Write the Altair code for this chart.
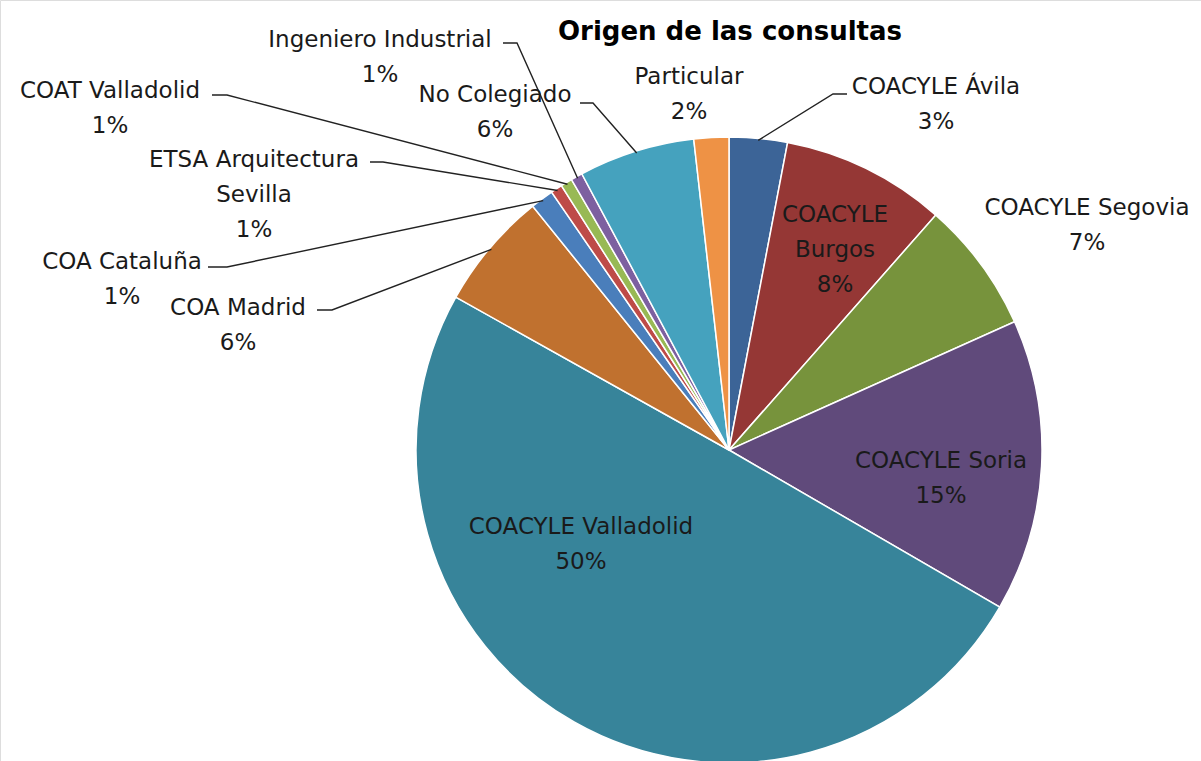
import math
import altair as alt
import pandas as pd

# ---- data ----
categories = ["COACYLE Ávila", "COACYLE Burgos", "COACYLE Segovia", "COACYLE Soria",
              "COACYLE Valladolid", "COA Madrid", "COA Cataluña",
              "ETSA Arquitectura Sevilla", "COAT Valladolid", "Ingeniero Industrial",
              "No Colegiado", "Particular"]
values = [3.0, 8.5, 6.8, 15.1, 49.8, 6.1, 1.2, 0.6, 0.6, 0.6, 6.0, 1.8]
pct_labels = ["3%", "8%", "7%", "15%", "50%", "6%", "1%", "1%", "1%", "1%", "6%", "2%"]
name_lines = [["COACYLE Ávila"], ["COACYLE", "Burgos"], ["COACYLE Segovia"], ["COACYLE Soria"],
              ["COACYLE Valladolid"], ["COA Madrid"], ["COA Cataluña"],
              ["ETSA Arquitectura", "Sevilla"], ["COAT Valladolid"], ["Ingeniero Industrial"],
              ["No Colegiado"], ["Particular"]]
colors = ["#3C6497", "#953735", "#77933C", "#604A7B", "#37849A", "#C0712F",
          "#4A7EBB", "#BE4B48", "#98B954", "#7D60A0", "#45A2BE", "#EE9245"]
title_text = "Origen de las consultas"

# ---- layout (pixel positions of pie, labels and leader elbows) ----
CX, CY, R = 729, 450, 313
LINE_H = 35
label_pos = [(936, 87), (835, 215), (1087, 208), (941, 461), (581, 527), (238, 308),
             (122, 262), (254, 160), (110, 91), (380, 40), (495, 95), (689, 77)]
# leader: (label-side start, elbow) or None
leaders = [((847, 94), (833, 94)), None, None, None, None, ((317, 310), (332, 310)),
           ((208, 267), (227, 267)), ((370, 162), (383, 162)), ((212, 95), (227, 95)),
           ((503, 43), (517, 43)), ((580, 103), (593, 103)), None]

pie_df = pd.DataFrame({"category": categories, "value": values, "idx": range(len(values))})

# text rows
rows = []
for i, (lines, pct) in enumerate(zip(name_lines, pct_labels)):
    x0, y0 = label_pos[i]
    for j, t in enumerate(lines + [pct]):
        rows.append({"t": t, "x": x0, "y": y0 + j * LINE_H})
text_df = pd.DataFrame(rows)

# leader lines: slice end from the data (mid angle of slice)
total = sum(values)
lrows = []
cum = 0.0
for i, v in enumerate(values):
    mid = (cum + v / 2) / total * 2 * math.pi
    cum += v
    if leaders[i] is None:
        continue
    (sx, sy), (ex, ey) = leaders[i]
    px = CX + (R - 2) * math.sin(mid)
    py = CY - (R - 2) * math.cos(mid)
    for k, (a, b) in enumerate([(sx, sy), (ex, ey), (px, py)]):
        lrows.append({"s": categories[i], "o": k, "px": a, "py": b})
line_df = pd.DataFrame(lrows)

FONT = "DejaVu Sans"

pie = alt.Chart(pie_df).mark_arc(radius=R, stroke="white", strokeWidth=1.5).encode(
    theta=alt.Theta("value:Q", stack=True),
    color=alt.Color("category:N", scale=alt.Scale(domain=categories, range=colors), legend=None),
    order=alt.Order("idx:Q"),
    x=alt.value(CX),
    y=alt.value(CY),
)

leader = alt.Chart(line_df).mark_line(color="#222222", strokeWidth=1.4).encode(
    x=alt.X("px:Q", scale=None),
    y=alt.Y("py:Q", scale=None),
    detail="s:N",
    order="o:Q",
)

labels = alt.Chart(text_df).mark_text(font=FONT, fontSize=23, color="#1a1a1a",
                                      align="center", baseline="middle").encode(
    x=alt.X("x:Q", scale=None),
    y=alt.Y("y:Q", scale=None),
    text="t:N",
)

title = alt.Chart(pd.DataFrame({"t": [title_text]})).mark_text(
    font=FONT, fontSize=26, fontWeight="bold", color="#000000",
    align="center", baseline="middle").encode(
    x=alt.value(730), y=alt.value(32), text="t:N")

chart = alt.layer(pie, leader, labels, title).properties(
    width=1201, height=761, padding=0,
    autosize=alt.AutoSizeParams(type="none"),
).configure_view(stroke=None).configure(background="white")

chart.save("out.html", embed_options={"renderer": "svg", "actions": False})
